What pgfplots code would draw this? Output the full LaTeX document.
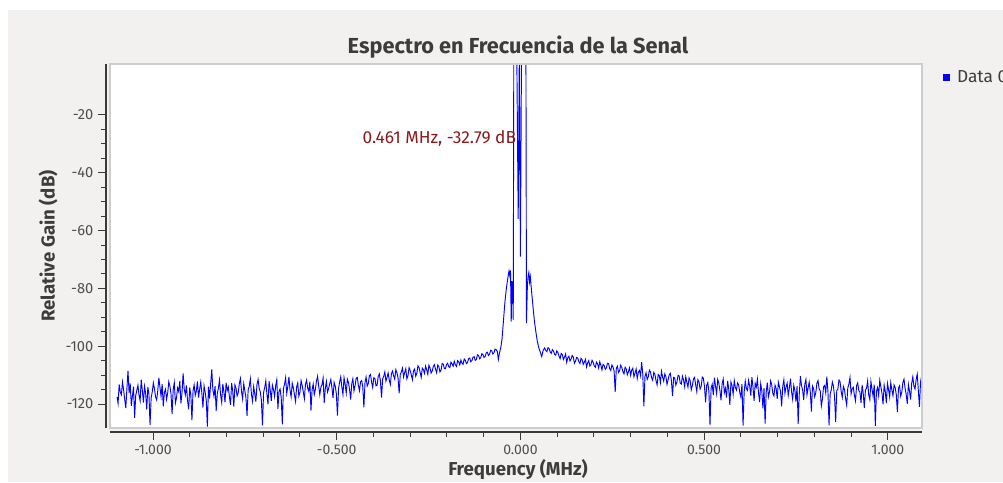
\documentclass[border=0pt]{standalone}
\usepackage{fontspec}
\setmainfont{Fira Sans}
\usepackage{pgfplots}
\pgfplotsset{compat=1.18}
\definecolor{panel}{HTML}{F2F1F0}
\definecolor{txt}{HTML}{3C3C3C}
\definecolor{ticktxt}{HTML}{4E4E4E}
\definecolor{axisc}{HTML}{3A3A3A}
\definecolor{markc}{HTML}{8B1A1A}
\definecolor{framec}{HTML}{CDCDCD}
\definecolor{trace}{RGB}{0,0,255}

\begin{document}
\begin{tikzpicture}
\path[use as bounding box] (0pt,0pt) rectangle (752.25pt,361.5pt);
\fill[white] (0pt,0pt) rectangle (752.25pt,361.5pt);
\fill[panel] (6pt,0pt) rectangle (752.25pt,354pt);
\begin{axis}[
  at={(82.5pt,40.5pt)}, anchor=south west,
  width=609pt, height=273pt, scale only axis,
  xmin=-1.117, xmax=1.093, ymin=-128.3, ymax=-2.4,
  axis background/.style={fill=white},
  axis x line*=bottom, axis y line*=left,
  x axis line style={yshift=-3pt, draw=axisc, line width=0.8pt},
  y axis line style={xshift=-3pt, draw=axisc, line width=0.8pt},
  xtick={-1,-0.5,0,0.5,1}, minor x tick num=4,
  ytick={-120,-100,...,-20}, minor y tick num=3,
  tick align=outside,
  major tick length=6pt, minor tick length=3.5pt,
  xtick style={yshift=-3pt, draw=axisc, line width=0.7pt},
  ytick style={xshift=-3pt, draw=axisc, line width=0.7pt},
  xticklabel={\pgfmathprintnumber[fixed,fixed zerofill,precision=3]{\tick}},
  xticklabel style={font=\fontsize{10.5}{12}\selectfont, text=ticktxt, yshift=-3pt},
  yticklabel style={font=\fontsize{11}{12}\selectfont, text=ticktxt, xshift=-3pt},
  /pgf/number format/assume math mode=true,
  legend style={at={(1.021,0.964)}, anchor=west, draw=none, fill=none,
    font=\fontsize{13}{15}\selectfont, text=txt},
  legend image code/.code={\fill[trace] (0pt,-2.3pt) rectangle (4.6pt,2.3pt);},
]
\addplot[trace, line width=0.7pt] coordinates {
(-1.098,-117.5) (-1.095,-119.8) (-1.092,-113.2) (-1.089,-115.9) (-1.086,-116.8) (-1.083,-112.4) (-1.080,-115.1) (-1.077,-118.3) (-1.074,-121.4) (-1.071,-114.7) (-1.068,-108.5) (-1.065,-116.2)
(-1.062,-112.9) (-1.059,-120.6) (-1.056,-117.3) (-1.053,-114.0) (-1.050,-124.8) (-1.047,-117.1) (-1.044,-115.2) (-1.041,-113.5) (-1.038,-116.9) (-1.035,-118.9) (-1.032,-111.6) (-1.029,-115.3)
(-1.026,-119.5) (-1.023,-113.9) (-1.020,-116.3) (-1.017,-121.9) (-1.014,-114.1) (-1.011,-116.6) (-1.008,-127.2) (-1.005,-117.9) (-1.002,-115.8) (-0.999,-112.7) (-0.996,-114.7) (-0.993,-117.5)
(-0.990,-118.6) (-0.987,-115.4) (-0.984,-110.9) (-0.981,-114.2) (-0.978,-117.4) (-0.975,-113.1) (-0.972,-120.8) (-0.969,-116.0) (-0.966,-114.9) (-0.963,-118.4) (-0.960,-116.2) (-0.957,-112.3)
(-0.954,-113.8) (-0.951,-116.5) (-0.948,-123.5) (-0.945,-115.0) (-0.942,-112.6) (-0.939,-119.7) (-0.936,-117.9) (-0.933,-114.4) (-0.930,-115.7) (-0.927,-112.0) (-0.924,-119.8) (-0.921,-116.1)
(-0.918,-109.4) (-0.915,-114.8) (-0.912,-116.8) (-0.909,-113.6) (-0.906,-118.7) (-0.903,-121.8) (-0.900,-114.3) (-0.897,-116.9) (-0.894,-125.6) (-0.891,-115.5) (-0.888,-113.4) (-0.885,-117.0)
(-0.882,-115.6) (-0.879,-112.2) (-0.876,-117.8) (-0.873,-114.9) (-0.870,-112.4) (-0.867,-116.3) (-0.864,-121.2) (-0.861,-113.7) (-0.858,-115.9) (-0.855,-118.8) (-0.852,-127.8) (-0.849,-114.0)
(-0.846,-118.1) (-0.843,-112.9) (-0.840,-108.0) (-0.837,-115.2) (-0.834,-117.3) (-0.831,-113.8) (-0.828,-122.4) (-0.825,-116.4) (-0.822,-114.6) (-0.819,-111.7) (-0.816,-116.9) (-0.813,-119.5)
(-0.810,-113.1) (-0.807,-115.8) (-0.804,-119.4) (-0.801,-112.6) (-0.798,-115.3) (-0.795,-114.1) (-0.792,-117.6) (-0.789,-120.3) (-0.786,-112.8) (-0.783,-115.5) (-0.780,-120.9) (-0.777,-113.4)
(-0.774,-114.5) (-0.771,-117.2) (-0.768,-116.1) (-0.765,-112.9) (-0.762,-111.2) (-0.759,-115.7) (-0.756,-118.3) (-0.753,-113.0) (-0.750,-115.4) (-0.747,-117.8) (-0.744,-124.1) (-0.741,-115.1)
(-0.738,-113.9) (-0.735,-111.3) (-0.732,-116.7) (-0.729,-119.0) (-0.726,-114.0) (-0.723,-116.4) (-0.720,-119.2) (-0.717,-113.3) (-0.714,-111.5) (-0.711,-114.6) (-0.708,-115.8) (-0.705,-118.6)
(-0.702,-127.4) (-0.699,-116.0) (-0.696,-114.3) (-0.693,-112.0) (-0.690,-116.5) (-0.687,-120.1) (-0.684,-112.1) (-0.681,-115.1) (-0.678,-118.9) (-0.675,-113.5) (-0.672,-115.0) (-0.669,-117.4)
(-0.666,-113.6) (-0.663,-111.6) (-0.660,-121.7) (-0.657,-115.6) (-0.654,-114.8) (-0.651,-117.9) (-0.648,-127.0) (-0.645,-114.6) (-0.642,-113.2) (-0.639,-110.9) (-0.636,-116.3) (-0.633,-113.9)
(-0.630,-110.6) (-0.627,-115.2) (-0.624,-117.5) (-0.621,-112.8) (-0.618,-114.4) (-0.615,-116.8) (-0.612,-119.1) (-0.609,-114.0) (-0.606,-112.7) (-0.603,-117.3) (-0.600,-115.9) (-0.597,-111.9)
(-0.594,-113.5) (-0.591,-115.8) (-0.588,-118.2) (-0.585,-113.2) (-0.582,-111.8) (-0.579,-114.5) (-0.576,-115.6) (-0.573,-112.3) (-0.570,-122.3) (-0.567,-115.1) (-0.564,-113.1) (-0.561,-116.7)
(-0.558,-114.9) (-0.555,-112.1) (-0.552,-110.4) (-0.549,-113.8) (-0.546,-116.8) (-0.543,-114.2) (-0.540,-113.3) (-0.537,-111.0) (-0.534,-119.6) (-0.531,-114.6) (-0.528,-112.2) (-0.525,-115.9)
(-0.522,-114.7) (-0.519,-113.0) (-0.516,-111.5) (-0.513,-114.3) (-0.510,-117.9) (-0.507,-112.5) (-0.504,-113.8) (-0.501,-116.4) (-0.498,-124.0) (-0.495,-114.7) (-0.492,-112.4) (-0.489,-110.6)
(-0.486,-114.1) (-0.483,-116.7) (-0.480,-110.9) (-0.477,-113.2) (-0.474,-116.2) (-0.471,-111.4) (-0.468,-112.6) (-0.465,-114.9) (-0.462,-118.5) (-0.459,-113.0) (-0.456,-111.3) (-0.453,-115.5)
(-0.450,-113.7) (-0.447,-111.1) (-0.444,-110.8) (-0.441,-113.6) (-0.438,-115.4) (-0.435,-112.3) (-0.432,-111.9) (-0.429,-114.1) (-0.426,-121.2) (-0.423,-112.6) (-0.420,-110.7) (-0.417,-113.8)
(-0.414,-112.9) (-0.411,-110.2) (-0.408,-109.8) (-0.405,-112.4) (-0.402,-114.3) (-0.399,-110.9) (-0.396,-111.2) (-0.393,-113.7) (-0.390,-113.5) (-0.387,-110.5) (-0.384,-109.6) (-0.381,-112.0)
(-0.378,-117.8) (-0.375,-111.3) (-0.372,-110.4) (-0.369,-108.9) (-0.366,-112.1) (-0.363,-110.8) (-0.360,-109.3) (-0.357,-111.7) (-0.354,-113.2) (-0.351,-109.5) (-0.348,-108.6) (-0.345,-110.3)
(-0.342,-111.4) (-0.339,-108.1) (-0.336,-109.2) (-0.333,-111.0) (-0.330,-116.3) (-0.327,-109.8) (-0.324,-108.9) (-0.321,-107.6) (-0.318,-110.7) (-0.315,-109.1) (-0.312,-107.8) (-0.309,-111.3)
(-0.306,-110.2) (-0.303,-107.4) (-0.300,-108.4) (-0.297,-109.9) (-0.294,-111.6) (-0.291,-108.5) (-0.288,-107.9) (-0.285,-110.4) (-0.282,-109.5) (-0.279,-106.8) (-0.276,-107.3) (-0.273,-109.0)
(-0.270,-110.8) (-0.267,-107.6) (-0.264,-108.1) (-0.261,-109.4) (-0.258,-106.9) (-0.255,-108.2) (-0.252,-109.7) (-0.249,-106.6) (-0.246,-107.5) (-0.243,-109.3) (-0.240,-108.6) (-0.237,-107.0)
(-0.234,-106.4) (-0.231,-108.0) (-0.228,-109.2) (-0.225,-106.5) (-0.222,-107.1) (-0.219,-108.9) (-0.216,-108.3) (-0.213,-106.0) (-0.210,-106.2) (-0.207,-107.7) (-0.204,-107.8) (-0.201,-106.3)
(-0.198,-105.9) (-0.195,-107.1) (-0.192,-107.4) (-0.189,-105.5) (-0.186,-106.1) (-0.183,-106.9) (-0.180,-105.2) (-0.177,-106.4) (-0.174,-107.0) (-0.171,-105.0) (-0.168,-105.4) (-0.165,-106.5)
(-0.162,-104.8) (-0.159,-105.9) (-0.156,-106.3) (-0.153,-104.4) (-0.150,-104.9) (-0.147,-106.0) (-0.144,-105.7) (-0.141,-104.3) (-0.138,-104.1) (-0.135,-105.4) (-0.132,-105.0) (-0.129,-103.8)
(-0.126,-103.6) (-0.123,-104.9) (-0.120,-104.7) (-0.117,-103.0) (-0.114,-103.2) (-0.111,-104.4) (-0.108,-104.0) (-0.105,-102.6) (-0.102,-102.9) (-0.099,-103.9) (-0.096,-103.6) (-0.093,-102.3)
(-0.090,-102.1) (-0.087,-103.2) (-0.084,-102.8) (-0.081,-101.4) (-0.078,-101.6) (-0.075,-102.7) (-0.072,-102.3) (-0.069,-101.0) (-0.066,-101.2)
(-0.063,-101.8) (-0.060,-104.6) (-0.057,-102.4) (-0.053,-100.2) (-0.050,-97.5) (-0.046,-91.0) (-0.042,-84.5)
(-0.038,-79.8) (-0.034,-76.2) (-0.031,-74.0) (-0.029,-75.5) (-0.027,-73.8) (-0.025,-91.5)
(-0.023,-77.5) (-0.021,-80.0) (-0.0195,-91.0) (-0.018,2) (-0.014,5) (-0.010,3)
(-0.006,-56) (-0.003,1) (0.000,-69) (0.003,2) (0.007,4) (0.011,5)
(0.015,1) (0.0165,-92) (0.019,-79) (0.021,-75.8) (0.023,-74.5) (0.025,-77.8)
(0.027,-76.0) (0.030,-80.5) (0.034,-86.0) (0.038,-91.2) (0.042,-95.0) (0.046,-98.3)
(0.050,-100.6) (0.054,-102.0) (0.058,-103.6) (0.062,-101.4) (0.066,-100.6)
(0.069,-101.5) (0.072,-101.9) (0.075,-100.5) (0.078,-100.8) (0.081,-102.0) (0.084,-102.5) (0.087,-101.2) (0.090,-101.7) (0.093,-102.8) (0.096,-103.1) (0.099,-101.6) (0.102,-102.2) (0.105,-103.4)
(0.108,-104.3) (0.111,-102.5) (0.114,-102.9) (0.117,-104.6) (0.120,-103.8) (0.123,-102.7) (0.126,-105.6) (0.129,-104.0) (0.132,-103.5) (0.135,-105.1) (0.138,-104.4) (0.141,-103.2)
(0.144,-103.8) (0.147,-105.9) (0.150,-105.2) (0.153,-103.9) (0.156,-104.1) (0.159,-105.3) (0.162,-106.0) (0.165,-104.2) (0.168,-104.7) (0.171,-106.3) (0.174,-105.5) (0.177,-104.6)
(0.180,-107.2) (0.183,-105.8) (0.186,-105.0) (0.189,-106.9) (0.192,-106.4) (0.195,-104.9) (0.198,-105.6) (0.201,-106.8) (0.204,-107.3) (0.207,-105.5) (0.210,-106.1) (0.213,-107.6)
(0.216,-105.4) (0.219,-106.6) (0.222,-108.2) (0.225,-106.3) (0.228,-106.7) (0.231,-108.0) (0.234,-107.5) (0.237,-105.9) (0.240,-106.0) (0.243,-107.8) (0.246,-108.4) (0.249,-106.5)
(0.252,-107.2) (0.255,-108.6) (0.258,-115.8) (0.261,-107.7) (0.264,-106.9) (0.267,-109.1) (0.270,-108.5) (0.273,-106.6) (0.276,-107.4) (0.279,-108.8) (0.282,-109.6) (0.285,-107.3)
(0.288,-107.9) (0.291,-109.9) (0.294,-108.8) (0.297,-107.5) (0.300,-110.1) (0.303,-108.3) (0.306,-107.6) (0.309,-110.6) (0.312,-109.3) (0.315,-107.9) (0.318,-111.2) (0.321,-109.0)
(0.324,-108.4) (0.327,-110.2) (0.330,-105.5) (0.333,-109.6) (0.336,-120.8) (0.339,-110.5) (0.342,-109.2) (0.345,-111.5) (0.348,-110.6) (0.351,-108.3) (0.354,-108.9) (0.357,-110.9)
(0.360,-111.8) (0.363,-109.1) (0.366,-109.7) (0.369,-111.9) (0.372,-113.4) (0.375,-109.8) (0.378,-110.2) (0.381,-112.6) (0.384,-108.7) (0.387,-110.7) (0.390,-112.1) (0.393,-109.6)
(0.396,-110.5) (0.399,-113.2) (0.402,-111.6) (0.405,-109.9) (0.408,-109.4) (0.411,-112.0) (0.414,-117.3) (0.417,-110.8) (0.420,-111.0) (0.423,-113.5) (0.426,-112.4) (0.429,-110.1)
(0.432,-110.3) (0.435,-112.8) (0.438,-113.1) (0.441,-110.4) (0.444,-111.7) (0.447,-114.0) (0.450,-110.6) (0.453,-112.5) (0.456,-114.2) (0.459,-111.0) (0.462,-111.9) (0.465,-115.1)
(0.468,-113.6) (0.471,-111.3) (0.474,-110.8) (0.477,-113.4) (0.480,-115.7) (0.483,-111.6) (0.486,-112.3) (0.489,-114.8) (0.492,-113.9) (0.495,-110.7) (0.498,-111.1) (0.501,-114.0)
(0.504,-119.4) (0.507,-113.5) (0.510,-112.6) (0.513,-115.6) (0.516,-127.3) (0.519,-114.4) (0.522,-113.2) (0.525,-116.9) (0.528,-110.9) (0.531,-113.8) (0.534,-116.4) (0.537,-111.5)
(0.540,-112.8) (0.543,-115.3) (0.546,-118.7) (0.549,-113.0) (0.552,-111.4) (0.555,-116.1) (0.558,-114.5) (0.561,-117.8) (0.564,-112.0) (0.567,-114.9) (0.570,-120.3) (0.573,-112.4)
(0.576,-113.7) (0.579,-116.6) (0.582,-111.9) (0.585,-114.3) (0.588,-115.2) (0.591,-112.7) (0.594,-113.4) (0.597,-116.0) (0.600,-117.6) (0.603,-113.1) (0.606,-127.5) (0.609,-115.8)
(0.612,-112.1) (0.615,-114.7) (0.618,-115.3) (0.621,-111.8) (0.624,-113.8) (0.627,-117.1) (0.630,-110.7) (0.633,-114.1) (0.636,-118.9) (0.639,-112.9) (0.642,-114.2) (0.645,-111.4)
(0.648,-116.1) (0.651,-119.3) (0.654,-113.0) (0.657,-115.4) (0.660,-121.5) (0.663,-114.5) (0.666,-126.8) (0.669,-115.9) (0.672,-112.6) (0.675,-117.5) (0.678,-115.9) (0.681,-112.0)
(0.684,-113.3) (0.687,-116.4) (0.690,-117.2) (0.693,-113.5) (0.696,-114.6) (0.699,-118.2) (0.702,-112.4) (0.705,-114.0) (0.708,-115.7) (0.711,-120.8) (0.714,-113.9) (0.717,-111.6)
(0.720,-116.3) (0.723,-114.1) (0.726,-112.8) (0.729,-117.0) (0.732,-114.5) (0.735,-111.2) (0.738,-115.8) (0.741,-118.4) (0.744,-113.6) (0.747,-115.3) (0.750,-119.2) (0.753,-113.8)
(0.756,-126.9) (0.759,-116.5) (0.762,-110.4) (0.765,-113.6) (0.768,-115.1) (0.771,-118.6) (0.774,-113.2) (0.777,-111.5) (0.780,-116.8) (0.783,-114.4) (0.786,-112.5) (0.789,-115.9)
(0.792,-122.6) (0.795,-113.8) (0.798,-114.7) (0.801,-117.5) (0.804,-116.0) (0.807,-112.8) (0.810,-111.9) (0.813,-114.8) (0.816,-115.4) (0.819,-120.7) (0.822,-118.3) (0.825,-114.0)
(0.828,-113.6) (0.831,-116.2) (0.834,-110.5) (0.837,-115.7) (0.840,-127.4) (0.843,-116.6) (0.846,-115.1) (0.849,-112.4) (0.852,-113.8) (0.855,-117.6) (0.858,-126.2) (0.861,-115.3)
(0.864,-114.9) (0.867,-111.7) (0.870,-112.3) (0.873,-115.6) (0.876,-117.7) (0.879,-113.9) (0.882,-115.0) (0.885,-118.1) (0.888,-120.4) (0.891,-114.5) (0.894,-113.1) (0.897,-110.8)
(0.900,-116.5) (0.903,-114.7) (0.906,-114.2) (0.909,-117.0) (0.912,-118.9) (0.915,-113.6) (0.918,-112.7) (0.921,-115.4) (0.924,-115.8) (0.927,-119.6) (0.930,-113.4) (0.933,-116.3)
(0.936,-121.3) (0.939,-115.2) (0.942,-114.6) (0.945,-112.0) (0.948,-116.9) (0.951,-118.5) (0.954,-112.2) (0.957,-114.9) (0.960,-117.4) (0.963,-113.3) (0.966,-127.6) (0.969,-115.6)
(0.972,-114.3) (0.975,-117.1) (0.978,-111.8) (0.981,-114.0) (0.984,-116.2) (0.987,-120.1) (0.990,-113.5) (0.993,-115.7) (0.996,-119.7) (0.999,-112.9) (1.002,-115.0) (1.005,-117.6)
(1.008,-112.6) (1.011,-115.2) (1.014,-117.1) (1.017,-113.4) (1.020,-114.3) (1.023,-116.8) (1.026,-122.8) (1.029,-114.5) (1.032,-113.7) (1.035,-117.3) (1.038,-115.9) (1.041,-112.5)
(1.044,-111.4) (1.047,-114.6) (1.050,-116.7) (1.053,-119.9) (1.056,-113.2) (1.059,-115.5) (1.062,-118.5) (1.065,-112.8) (1.068,-110.6) (1.071,-113.9) (1.074,-114.8) (1.077,-111.6)
(1.080,-109.7) (1.083,-115.3) (1.086,-121.0) (1.089,-112.4) (1.092,-110.2)
};
\addlegendentry{\hspace{3pt}Data 0}
\node[anchor=east, text=markc, font=\fontsize{13}{15}\selectfont, inner sep=0pt]
  at (axis cs:-0.011,-28) {0.461 MHz, -32.79 dB};
\end{axis}
\draw[framec, line width=1.2pt] (82.5pt,40.5pt) rectangle ++(609pt,273pt);
\node[font=\fontsize{16.3}{19}\selectfont\bfseries, text=txt] at (388.5pt,326.5pt)
  {Espectro en Frecuencia de la Senal};
\node[font=\fontsize{14}{16}\selectfont\bfseries, text=txt] at (388.5pt,9pt)
  {Frequency (MHz)};
\node[font=\fontsize{14}{16}\selectfont\bfseries, text=txt, rotate=90] at (36pt,177pt)
  {Relative Gain (dB)};
\end{tikzpicture}
\end{document}
